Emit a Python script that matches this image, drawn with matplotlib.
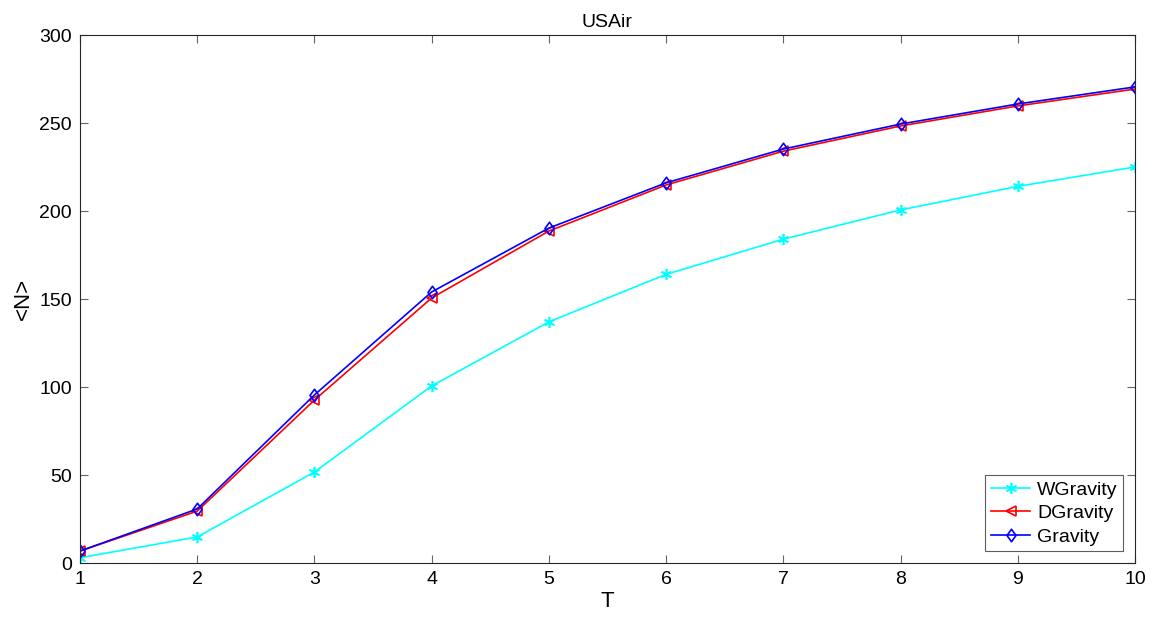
import matplotlib
matplotlib.use('Agg')
import matplotlib.pyplot as plt
from matplotlib.path import Path

plt.rcParams['font.family'] = ['Liberation Sans', 'DejaVu Sans']

T = [1, 2, 3, 4, 5, 6, 7, 8, 9, 10]
wgravity = [3.0, 14.8, 51.7, 100.6, 137.0, 164.0, 184.0, 200.6, 214.0, 225.0]
dgravity = [6.8, 29.5, 92.6, 150.6, 188.6, 214.8, 234.0, 248.3, 259.7, 269.3]
gravity = [6.8, 30.7, 95.5, 154.0, 190.3, 216.0, 235.2, 249.4, 260.8, 270.5]

# matlab-like diamond (a bit narrower than tall)
diamond = Path([(0, 1), (0.72, 0), (0, -1), (-0.72, 0), (0, 1)],
               [Path.MOVETO, Path.LINETO, Path.LINETO, Path.LINETO, Path.CLOSEPOLY])

fig = plt.figure(figsize=(11.65, 6.25), dpi=100)
ax = fig.add_axes([0.0687, 0.0992, 0.9055, 0.8448])

ax.plot(T, wgravity, color='cyan', marker=(6, 2, 0), markersize=8, mew=1.2, lw=1.2, label='WGravity')
ax.plot(T, dgravity, color='red', marker='<', markersize=7, mfc='none', mew=1.2, lw=1.2, label='DGravity')
ax.plot(T, gravity, color='blue', marker=diamond, markersize=9, mfc='none', mew=1.2, lw=1.2, label='Gravity')

ax.set_xlim(1, 10)
ax.set_ylim(0, 300)
ax.set_xticks(T)
ax.set_yticks(range(0, 301, 50))
ax.tick_params(direction='in', top=True, right=True, labelsize=14, length=6, color='0.4', pad=6)
for s in ax.spines.values():
    s.set_color('0.15')
    s.set_linewidth(0.8)

ax.set_title('USAir', fontsize=14, pad=6)
ax.set_xlabel('T', fontsize=16, labelpad=2)
ax.set_ylabel('<N>', fontsize=16, labelpad=4)

leg = ax.legend(loc='lower right', fontsize=14, fancybox=False, edgecolor='0.2',
                borderaxespad=0.6, handlelength=2.0, handletextpad=0.35,
                labelspacing=0.3, borderpad=0.3)
leg.get_frame().set_linewidth(0.8)

fig.savefig('out.png', dpi=100)
